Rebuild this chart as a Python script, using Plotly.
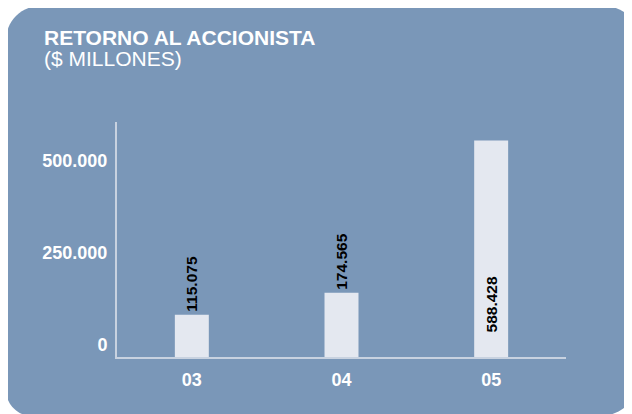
import plotly.graph_objects as go

categories = ["03", "04", "05"]
values = [115075, 174565, 588428]
tick_vals = [0, 250000, 500000]
tick_text = ["0", "250.000", "500.000"]
title_line1 = "RETORNO AL ACCIONISTA"
title_line2 = "($ MILLONES)"

OFF = 8  # page body margin in the browser
W, H = 632 - OFF, 414 - OFF
# plot area in reference pixel coordinates
L, R, T, B = 117, 566, 122, 357

def px(x):
    return (x - L) / (R - L)

def py(y):
    return (B - y) / (B - T)

FONT = "Liberation Sans, Arial, sans-serif"

labels = [f"{v:,.0f}".replace(",", ".") for v in values]
positions = ["outside", "outside", "inside"]
labels_disp = [labels[0], labels[1], "\u00a0" * 5 + labels[2]]

fig = go.Figure()
fig.add_trace(go.Bar(
    x=categories, y=values,
    marker=dict(color="#e4e8f0", line=dict(width=0)),
    width=0.227,
    text=labels_disp, textposition=positions,
    textangle=-90, insidetextanchor="start",
    constraintext="none", cliponaxis=False,
    textfont=dict(family=FONT, size=15.5, color="#000000", weight="bold"),
    hoverinfo="skip",
))

# rounded panel path (reference pixels -> paper)
left, top, right, bottom = 6, 6, 640, 416
r_tl, r_tr, r_br, r_bl = 34, 36, 40, 26
k = 0.5523
path = (
    f"M {px(left + r_tl)} {py(top)} "
    f"L {px(right - r_tr)} {py(top)} "
    f"C {px(right - r_tr + k*r_tr)} {py(top)} {px(right)} {py(top + r_tr - k*r_tr)} {px(right)} {py(top + r_tr)} "
    f"L {px(right)} {py(bottom - r_br)} "
    f"C {px(right)} {py(bottom - r_br + k*r_br)} {px(right - r_br + k*r_br)} {py(bottom)} {px(right - r_br)} {py(bottom)} "
    f"L {px(left + r_bl)} {py(bottom)} "
    f"C {px(left + r_bl - k*r_bl)} {py(bottom)} {px(left)} {py(bottom - r_bl + k*r_bl)} {px(left)} {py(bottom - r_bl)} "
    f"L {px(left)} {py(top + r_tl)} "
    f"C {px(left)} {py(top + r_tl - k*r_tl)} {px(left + r_tl - k*r_tl)} {py(top)} {px(left + r_tl)} {py(top)} Z"
)

fig.update_layout(
    width=W, height=H,
    margin=dict(l=L - OFF, r=632 - R, t=T - OFF, b=414 - B, pad=0),
    paper_bgcolor="#ffffff",
    plot_bgcolor="rgba(0,0,0,0)",
    showlegend=False,
    font=dict(family=FONT, color="#ffffff"),
    shapes=[dict(type="path", path=path, xref="paper", yref="paper",
                 fillcolor="#7a97b8", line=dict(width=0), layer="below")],
    annotations=[
        dict(text=f"<b>{title_line1}</b>", x=px(42), y=py(38), xref="paper", yref="paper",
             xanchor="left", yanchor="middle", showarrow=False,
             font=dict(size=21, color="#ffffff", family=FONT)),
        dict(text=title_line2, x=px(42), y=py(58), xref="paper", yref="paper",
             xanchor="left", yanchor="middle", showarrow=False,
             font=dict(size=21, color="#ffffff", family=FONT)),
    ],
)

fig.update_xaxes(
    showgrid=False, zeroline=False,
    showline=True, linecolor="#c8d2e0", linewidth=2,
    ticks="", ticklabelstandoff=5,
    tickfont=dict(size=18, color="#ffffff", weight="bold"),
)
fig.update_yaxes(
    range=[0, 638600], showgrid=False, zeroline=False,
    showline=True, linecolor="#c8d2e0", linewidth=2,
    tickvals=tick_vals, ticktext=tick_text,
    ticks="", ticklabelstandoff=4, ticklabelshift=-12,
    tickfont=dict(size=18, color="#ffffff", weight="bold"),
)

fig.write_html("out.html")
